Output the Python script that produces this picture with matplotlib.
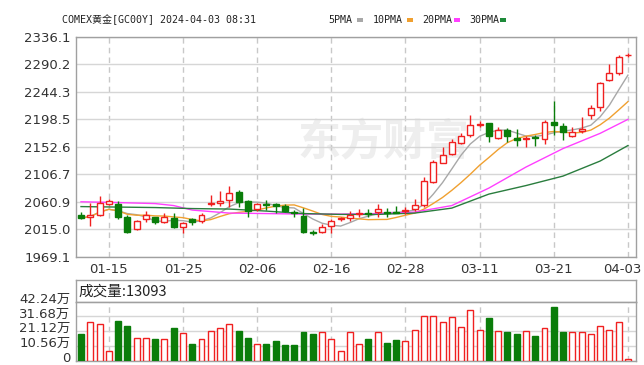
import matplotlib
matplotlib.use('Agg')
import matplotlib.pyplot as plt
import matplotlib.transforms as mtransforms
from matplotlib.patches import Rectangle
import pandas as pd

plt.rcParams['font.family'] = ['DejaVu Sans', 'Noto Sans CJK SC']

# 交易日
dates = ['01-10', '01-11', '01-12', '01-15', '01-16', '01-17', '01-18', '01-19', '01-22', '01-23',
         '01-24', '01-25', '01-26', '01-29', '01-30', '01-31', '02-01', '02-02', '02-05', '02-06',
         '02-07', '02-08', '02-09', '02-12', '02-13', '02-14', '02-15', '02-16', '02-19', '02-20',
         '02-21', '02-22', '02-23', '02-26', '02-27', '02-28', '02-29', '03-01', '03-04', '03-05',
         '03-06', '03-07', '03-08', '03-11', '03-12', '03-13', '03-14', '03-15', '03-18', '03-19',
         '03-20', '03-21', '03-22', '03-25', '03-26', '03-27', '03-28', '04-01', '04-02', '04-03']

opens = [2039.4, 2036.0, 2038.9, 2057.2, 2056.7, 2035.0, 2015.1, 2032.2, 2035.0, 2027.7,
         2033.4, 2018.4, 2031.7, 2029.4, 2056.7, 2059.3, 2063.8, 2077.7, 2062.2, 2048.4,
         2056.7, 2056.7, 2053.9, 2044.4, 2037.2, 2010.9, 2011.1, 2021.0, 2032.9, 2033.4,
         2040.9, 2042.2, 2043.4, 2044.0, 2044.0, 2045.5, 2048.4, 2055.5, 2094.3, 2126.0,
         2140.4, 2159.3, 2172.1, 2189.6, 2191.6, 2166.6, 2180.4, 2167.6, 2165.1, 2168.3,
         2165.4, 2193.2, 2187.1, 2170.9, 2179.2, 2205.4, 2219.2, 2263.7, 2274.8, 2304.6]
highs = [2043.9, 2059.3, 2071.0, 2065.0, 2062.7, 2038.9, 2030.5, 2046.4, 2036.0, 2041.7,
         2041.7, 2027.7, 2033.4, 2041.7, 2072.2, 2078.8, 2087.2, 2080.5, 2063.8, 2059.3,
         2063.8, 2059.3, 2056.7, 2047.2, 2050.0, 2013.9, 2023.4, 2032.2, 2036.0, 2045.5,
         2048.4, 2048.4, 2057.2, 2050.0, 2053.9, 2051.7, 2065.0, 2101.6, 2130.4, 2152.6,
         2164.9, 2174.9, 2205.4, 2195.9, 2192.6, 2185.9, 2183.2, 2181.6, 2170.4, 2172.1,
         2197.1, 2229.2, 2191.6, 2184.9, 2202.6, 2222.0, 2260.8, 2289.8, 2305.3, 2309.1]
lows = [2031.7, 2021.0, 2038.0, 2055.5, 2031.7, 2009.4, 2013.9, 2027.2, 2023.4, 2025.0,
        2016.7, 2008.4, 2022.2, 2025.0, 2053.9, 2053.9, 2052.7, 2052.7, 2036.0, 2046.0,
        2047.2, 2041.7, 2043.4, 2036.0, 2008.4, 2005.6, 2008.4, 2008.4, 2029.4, 2029.4,
        2036.0, 2036.0, 2036.0, 2035.0, 2041.7, 2041.4, 2046.0, 2052.7, 2091.6, 2124.9,
        2138.8, 2157.1, 2169.2, 2185.9, 2160.9, 2164.9, 2160.9, 2153.8, 2151.6, 2153.8,
        2156.6, 2172.1, 2163.8, 2169.2, 2174.9, 2198.7, 2212.0, 2262.0, 2272.0, 2301.5]
closes = [2033.9, 2038.9, 2058.4, 2062.7, 2036.0, 2011.1, 2029.4, 2039.7, 2027.7, 2035.0,
          2019.4, 2026.0, 2027.7, 2038.9, 2058.8, 2062.7, 2076.0, 2061.0, 2045.5, 2056.7,
          2055.0, 2054.3, 2046.0, 2041.7, 2010.1, 2009.6, 2019.4, 2029.4, 2034.2, 2038.9,
          2042.2, 2040.9, 2048.9, 2042.7, 2042.7, 2047.2, 2055.5, 2095.5, 2127.6, 2138.8,
          2160.9, 2170.4, 2188.7, 2191.2, 2170.9, 2180.4, 2170.4, 2163.8, 2166.6, 2166.9,
          2193.2, 2188.7, 2177.6, 2176.6, 2182.1, 2217.5, 2258.2, 2274.8, 2302.5, 2306.0]
volumes = [187000, 275000, 260000, 68000, 286000, 250000, 165000, 165000, 151000, 158000,
           231000, 194000, 122000, 151000, 211000, 231000, 260000, 213000, 165000, 122000,
           122000, 141000, 111000, 111000, 204000, 187000, 202000, 158000, 66000, 202000,
           122000, 151000, 202000, 129000, 148000, 138000, 218000, 320000, 320000, 275000,
           311000, 238000, 364000, 218000, 304000, 211000, 202000, 187000, 211000, 175000,
           231000, 384000, 202000, 202000, 202000, 187000, 248000, 218000, 275000, 13093]

# 20/30日均线 (读图取样点)
ma20_idx = [0, 4, 8, 10, 12, 16, 20, 24, 28, 32, 36, 40, 44, 48, 52, 56, 59]
ma20_val = [2061.0, 2059.7, 2058.0, 2054.7, 2047.2, 2042.2, 2041.4, 2040.5, 2040.5, 2041.4,
            2043.9, 2054.7, 2083.8, 2118.8, 2149.6, 2174.9, 2198.2]
ma30_idx = [0, 4, 8, 12, 16, 20, 24, 28, 32, 36, 40, 44, 48, 52, 56, 59]
ma30_val = [2053.0, 2052.2, 2051.4, 2049.7, 2048.9, 2045.5, 2041.4, 2040.0, 2040.0, 2042.2,
            2050.5, 2073.8, 2088.0, 2103.8, 2128.8, 2154.6]

price_ticks = [1969.1, 2015.0, 2060.9, 2106.7, 2152.6, 2198.5, 2244.3, 2290.2, 2336.1]
vol_ticks = [0, 105600, 211200, 316800, 422400]
vol_labels = ['0', '10.56万', '21.12万', '31.68万', '42.24万']
date_ticks = [3, 11, 19, 27, 35, 43, 51, 59]

RED = '#f02020'
GREEN = '#0a7d0a'
GRID = '#d6d6d6'
VGRID = '#c8c8c8'
SPINE = '#a0a0a0'

W, H = 644, 365
fig = plt.figure(figsize=(W / 100, H / 100), dpi=100)


def box(l, t, r, b):
    return [l / W, 1 - b / H, (r - l) / W, (b - t) / H]


def shift(label, dx, dy):
    off = mtransforms.ScaledTranslation(dx / 100, dy / 100, fig.dpi_scale_trans)
    label.set_transform(label.get_transform() + off)


ax = fig.add_axes(box(76, 36.5, 636, 257))
hx = fig.add_axes(box(76, 280, 636, 301.7))
vx = fig.add_axes(box(76, 301.7, 636, 360.5))

df = pd.DataFrame({'o': opens, 'h': highs, 'l': lows, 'c': closes, 'v': volumes})
df['up'] = df['c'] >= df['o']
xs = list(range(len(df)))
cols = [RED if u else GREEN for u in df['up']]

# 均线
ma5 = df['c'].rolling(5, min_periods=1).mean()
ma10 = df['c'].rolling(10, min_periods=1).mean()
ax.plot(xs, ma5, color='#a8a8a8', lw=1, zorder=2)
ax.plot(xs, ma10, color='#f0a030', lw=1, zorder=2)
ax.plot(ma20_idx, ma20_val, color='#ff40ff', lw=1, zorder=2)
ax.plot(ma30_idx, ma30_val, color='#2a7d3e', lw=1, zorder=2)

# K线
ax.vlines(xs, df['l'], df['h'], colors=cols, lw=1, zorder=3)
bw = 0.64
for i, r in df.iterrows():
    lo = min(r['o'], r['c'])
    hgt = max(abs(r['c'] - r['o']), 0.6)
    face = 'white' if r['up'] else GREEN
    ax.add_patch(Rectangle((i - bw / 2, lo), bw, hgt, facecolor=face,
                           edgecolor=cols[i], lw=1, zorder=4))

ax.set_xlim(-0.54, 59.87)
ax.set_ylim(1969.1, 2336.1)
ax.set_yticks(price_ticks)
ax.set_yticklabels([f'{t:.1f}' for t in price_ticks])
ax.set_xticks(date_ticks)
ax.set_xticklabels([dates[i] for i in date_ticks])
ax.grid(axis='y', color=GRID, lw=1)
ax.grid(axis='x', color=VGRID, lw=1, ls=(0, (4, 3)))
ax.set_axisbelow(True)
ax.tick_params(length=0, labelsize=9.5, labelcolor='#333333', pad=4)
shift(ax.get_xticklabels()[-1], -6, 0)

# 水印
ax.text(0.55, 0.52, '东方财富', transform=ax.transAxes, fontsize=31, fontweight='bold',
        color='#eeeeee', ha='center', va='center', family='Noto Sans CJK SC', zorder=0)

# 成交量
vfaces = ['white' if u else GREEN for u in df['up']]
vx.bar(xs, df['v'], width=bw, color=vfaces, edgecolor=cols, lw=1, zorder=3)
vx.set_xlim(-0.54, 59.87)
vx.set_ylim(0, 422400)
vx.set_yticks(vol_ticks)
vx.set_yticklabels(vol_labels)
vx.set_xticks(date_ticks)
vx.set_xticklabels([])
vx.grid(axis='y', color=GRID, lw=1)
vx.grid(axis='x', color=VGRID, lw=1, ls=(0, (4, 3)))
vx.set_axisbelow(True)
vx.tick_params(length=0, labelsize=9.5, labelcolor='#333333', pad=4)
for lab in vx.get_yticklabels():
    shift(lab, 0, 4)

hx.set_xticks([])
hx.set_yticks([])
hx.text(0.004, 0.48, '成交量:' + str(volumes[-1]), transform=hx.transAxes, fontsize=10.5,
        va='center', ha='left', color='#222222', family=['Noto Sans CJK SC'])

for a in (ax, hx, vx):
    for s in a.spines.values():
        s.set_color(SPINE)
        s.set_linewidth(1)

# 标题与图例
fig.text(62 / W, 1 - 20 / H, 'COMEX黄金[GC00Y] 2024-04-03 08:31', fontsize=7.2,
         family=['DejaVu Sans Mono', 'Noto Sans CJK SC'], va='center', ha='left', color='#222222')
legend_items = [('5PMA', 328, 357, '#a8a8a8'), ('10PMA', 373, 407, '#f0a030'),
                ('20PMA', 422, 454, '#ff40ff'), ('30PMA', 469, 500, '#1e8a3a')]
for name, tx, sx, c in legend_items:
    fig.text(tx / W, 1 - 20 / H, name, fontsize=7.2, family='DejaVu Sans Mono',
             va='center', ha='left', color='#222222')
    fig.add_artist(Rectangle((sx / W, 1 - 22 / H), 6 / W, 4 / H, transform=fig.transFigure,
                             facecolor=c, edgecolor='none'))

fig.savefig('out.png', dpi=100)
